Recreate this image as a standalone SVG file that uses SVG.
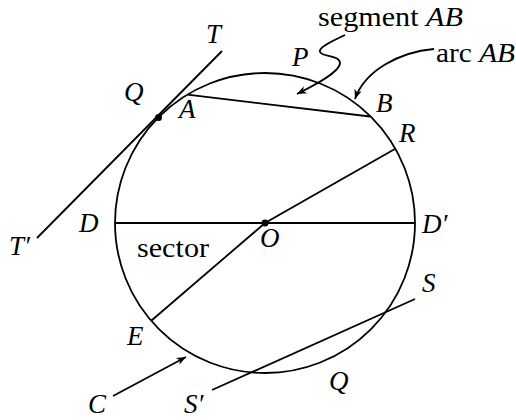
<svg xmlns="http://www.w3.org/2000/svg" width="516" height="420" viewBox="0 0 516 420">
<style>
.ln{fill:none;stroke:#000;stroke-width:1.8;stroke-linecap:butt}
.t{font-family:"Liberation Serif","Times New Roman",serif;font-size:27px;fill:#000}
.i{font-style:italic}
</style>
<defs>
<marker id="ah" markerWidth="12" markerHeight="10" refX="0" refY="0" viewBox="-10 -5 12 10" orient="auto" markerUnits="userSpaceOnUse">
<path d="M0,0 L-9.5,-3.8 L-6.8,0 L-9.5,3.8 Z" fill="#000"/>
</marker>
</defs>
<rect width="516" height="420" fill="#fff"/>
<g id="figure">
<circle class="ln" cx="265" cy="223" r="150"/>
<line class="ln" x1="115" y1="223" x2="415" y2="223"/>
<line class="ln" x1="187.4" y1="94.6" x2="370" y2="116.5"/>
<polyline class="ln" points="395.3,148.7 265,223 151.2,320.7"/>
<line class="ln" x1="222" y1="51" x2="37" y2="238"/>
<line class="ln" x1="212" y1="390" x2="415" y2="299"/>
<circle cx="158.5" cy="117.5" r="3.5"/>
<circle cx="265" cy="223" r="3.5"/>
</g>
<g id="connectors">
<path class="ln" d="M345,35 C335,40 318,47 320,52 C322,57 340,55 340,63 C340,72 315,85 297,94" marker-end="url(#ah)"/>
<path class="ln" d="M434,49 C400,52 365,70 355,99" marker-end="url(#ah)"/>
<line class="ln" x1="113" y1="396" x2="186" y2="357" marker-end="url(#ah)"/>
</g>
<g id="labels">
<text class="t i" x="206" y="43">T</text>
<text class="t i" x="124" y="101">Q</text>
<text class="t i" x="179" y="118">A</text>
<text class="t" x="318" y="26" textLength="145" lengthAdjust="spacingAndGlyphs">segment <tspan class="i">AB</tspan></text>
<text class="t i" x="292" y="66">P</text>
<text class="t" x="436" y="62" textLength="79" lengthAdjust="spacingAndGlyphs">arc <tspan class="i">AB</tspan></text>
<text class="t i" x="376" y="112">B</text>
<text class="t i" x="399" y="142">R</text>
<text class="t i" x="79" y="232">D</text>
<text class="t i" x="422" y="233">D′</text>
<text class="t i" x="9" y="255">T′</text>
<text class="t" x="137" y="257" textLength="72" lengthAdjust="spacingAndGlyphs">sector</text>
<text class="t i" x="260" y="247">O</text>
<text class="t i" x="127" y="345">E</text>
<text class="t i" x="422" y="292">S</text>
<text class="t i" x="88" y="413">C</text>
<text class="t i" x="184" y="413">S′</text>
<text class="t i" x="329" y="390">Q</text>
</g>
</svg>
